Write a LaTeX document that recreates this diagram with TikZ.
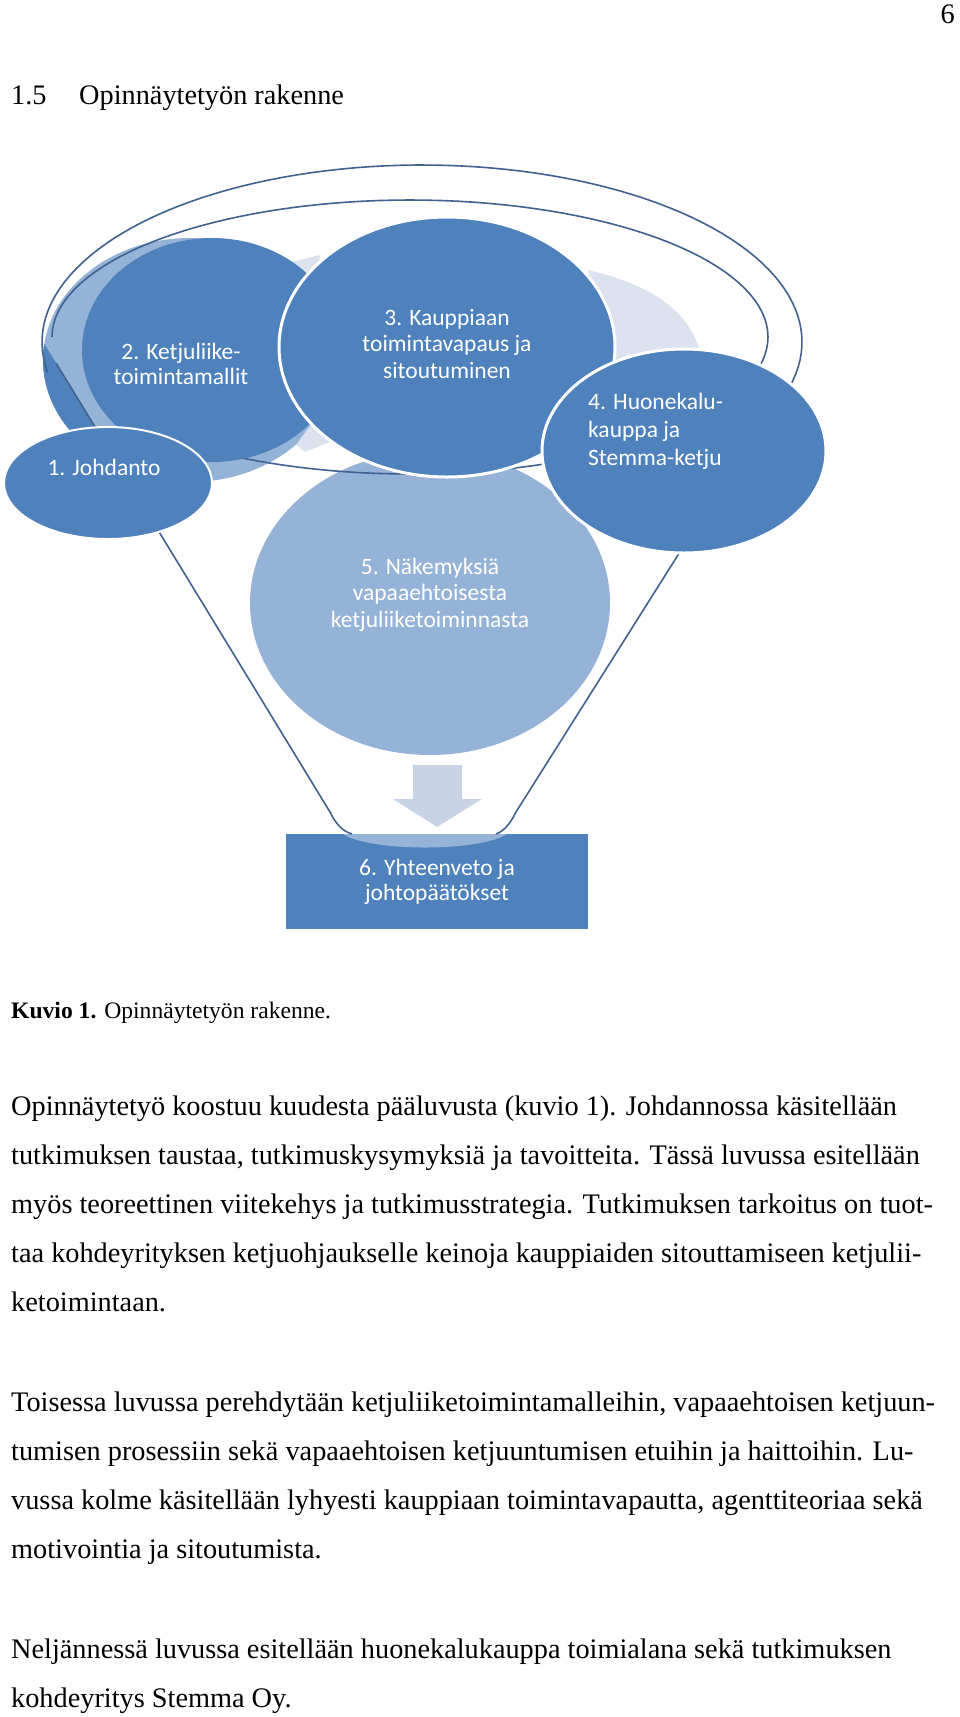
\documentclass[tikz,border=0pt]{standalone}
\usepackage{fontspec}
\setmainfont{Liberation Serif}
\newfontfamily\carl{Carlito}
\usetikzlibrary{shapes.geometric}
\definecolor{dblue}{HTML}{4F81BD}
\definecolor{lblue}{HTML}{95B3D7}
\definecolor{gbit}{HTML}{DDE3EE}
\definecolor{arrowc}{HTML}{C8D4E6}
\definecolor{lineC}{HTML}{41628F}
\begin{document}
\begin{tikzpicture}[x=1pt,y=-1pt,
  bub/.style={ellipse, inner sep=0pt, fill=dblue},
  wb/.style={draw=white, line width=3pt},
  dtxt/.style={font=\carl\fontsize{23.5}{26.5}\selectfont, text=white, inner sep=0pt, anchor=base},
  dtxtl/.style={dtxt, anchor=base west},
  body/.style={font=\fontsize{28.3}{34}\selectfont, inner sep=0pt, anchor=base west},
  captxt/.style={font=\fontsize{23.6}{28}\selectfont, inner sep=0pt, anchor=base west},
  fline/.style={draw=lineC, line width=1.6pt}]
\useasboundingbox (0,0) rectangle (960,1717);
\fill[white] (0,0) rectangle (960,1717);

% result box, its lighter cap and the arrow
\node[fill=dblue, minimum width=302pt, minimum height=95pt, inner sep=0pt, anchor=north west] (r6) at (286,834) {};
\begin{scope}
\clip (286,834) rectangle (588,929);
\fill[lblue] (343,834) .. controls (370,852) and (480,852) .. (507,834) -- cycle;
\end{scope}
\fill[arrowc] (413,765) -- (462,765) -- (462,799) -- (482,799) -- (437,827) -- (393,799) -- (413,799) -- cycle;

% shape behind the funnel (left)
\fill[lblue] (190,360) ellipse [x radius=147, y radius=122];
\begin{scope}
\clip (17.6,300) -- (330,812) -- (0,812) -- (0,300) -- cycle;
\fill[dblue] (190,360) ellipse [x radius=147, y radius=122];
\end{scope}

% circle 5
\node[bub, fill=lblue, minimum width=360pt, minimum height=304pt] (c5) at (430,603) {};

% grey bits
\fill[gbit] (270,267) -- (320,255) -- (315,300) -- (285,300) -- cycle;
\fill[gbit] (296,445) -- (318,415) -- (335,440) -- (305,452) -- cycle;
\fill[gbit] (588,270) .. controls (640,282) and (688,305) .. (700,352) -- (610,365) -- cycle;

% funnel outline
\draw[fline] plot[domain=170:375, samples=90, variable=\t] ({422+380*cos(\t)},{342+177*sin(\t)});
\draw[fline] plot[domain=180:486, samples=120, variable=\t] ({410+358*cos(\t)},{337+137*sin(\t)});
\draw[fline] (56,363) -- (330,812) .. controls (336,824) and (342,831) .. (352,834);
\draw[fline] (782,390) -- (516,812) .. controls (510,824) and (504,831) .. (496,834);

% circles
\node[bub, minimum width=260pt, minimum height=224pt] (c2) at (212,350) {};
\node[bub, wb, minimum width=336pt, minimum height=260pt] (c3) at (447,347) {};
\node[bub, draw=white, line width=2pt, minimum width=208pt, minimum height=112pt] (c1) at (108,483) {};
\node[bub, wb, minimum width=284pt, minimum height=204pt] (c4) at (684,451) {};

% diagram texts
\node[dtxt] (t1) at (104,475) {1. Johdanto};
\node[dtxt] (t2a) at (181,359) {2. Ketjuliike-};
\node[dtxt] (t2b) at (181,384) {toimintamallit};
\node[dtxt] (t3a) at (447,325) {3. Kauppiaan};
\node[dtxt] (t3b) at (447,351) {toimintavapaus ja};
\node[dtxt] (t3c) at (447,378) {sitoutuminen};
\node[dtxtl] (t4a) at (588,409) {4. Huonekalu-};
\node[dtxtl] (t4b) at (588,437) {kauppa ja};
\node[dtxtl] (t4c) at (588,465) {Stemma-ketju};
\node[dtxt] (t5a) at (430,574) {5. Näkemyksiä};
\node[dtxt] (t5b) at (430,600) {vapaaehtoisesta};
\node[dtxt] (t5c) at (430,627) {ketjuliiketoiminnasta};
\node[dtxt] (t6a) at (437,875) {6. Yhteenveto ja};
\node[dtxt] (t6b) at (437,900) {johtopäätökset};

% page text
\node[body, anchor=base east] (pn) at (955,23) {6};
\node[body] (hnum) at (11,104) {1.5};
\node[body] (htit) at (79,104) {Opinnäytetyön rakenne};
\node[captxt] (cap) at (11,1018) {\textbf{Kuvio 1.} Opinnäytetyön rakenne.};
\node[body] (p1a) at (11,1115) {Opinnäytetyö koostuu kuudesta pääluvusta (kuvio 1). Johdannossa käsitellään};
\node[body] (p1b) at (11,1164) {tutkimuksen taustaa, tutkimuskysymyksiä ja tavoitteita. Tässä luvussa esitellään};
\node[body] (p1c) at (11,1213) {myös teoreettinen viitekehys ja tutkimusstrategia. Tutkimuksen tarkoitus on tuot-};
\node[body] (p1d) at (11,1262) {taa kohdeyrityksen ketjuohjaukselle keinoja kauppiaiden sitouttamiseen ketjulii-};
\node[body] (p1e) at (11,1311) {ketoimintaan.};
\node[body] (p2a) at (11,1411) {Toisessa luvussa perehdytään ketjuliiketoimintamalleihin, vapaaehtoisen ketjuun-};
\node[body] (p2b) at (11,1460) {tumisen prosessiin sekä vapaaehtoisen ketjuuntumisen etuihin ja haittoihin. Lu-};
\node[body] (p2c) at (11,1509) {vussa kolme käsitellään lyhyesti kauppiaan toimintavapautta, agenttiteoriaa sekä};
\node[body] (p2d) at (11,1558) {motivointia ja sitoutumista.};
\node[body] (p3a) at (11,1658) {Neljännessä luvussa esitellään huonekalukauppa toimialana sekä tutkimuksen};
\node[body] (p3b) at (11,1707) {kohdeyritys Stemma Oy.};
\end{tikzpicture}
\end{document}
